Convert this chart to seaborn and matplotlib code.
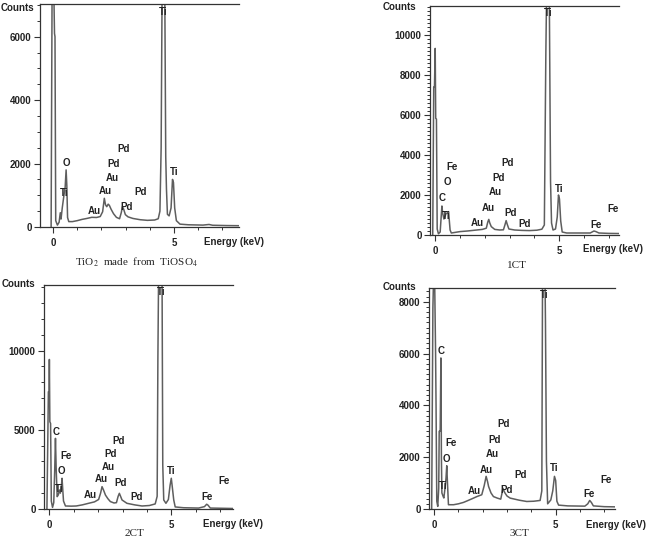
import matplotlib
matplotlib.use('Agg')
import matplotlib.pyplot as plt
import seaborn as sns
import pandas as pd
from matplotlib.ticker import MultipleLocator, FixedLocator

# spectra (energy in keV, counts)
energy_tio2 = [-0.08, -0.04, 0.03, 0.06, 0.08, 0.11, 0.18, 0.25, 0.30, 0.33, 0.38, 0.45, 0.50, 0.54, 0.57,
               0.60, 0.65, 0.80, 1.00, 1.20, 1.40, 1.60, 1.80, 1.95, 2.05, 2.12, 2.17, 2.22, 2.28, 2.33,
               2.40, 2.50, 2.62, 2.75, 2.82, 2.87, 2.92, 2.99, 3.10, 3.30, 3.60, 3.90, 4.20, 4.35, 4.42,
               4.47, 4.51, 4.62, 4.66, 4.69, 4.73, 4.80, 4.88, 4.94, 4.98, 5.03, 5.10, 5.25, 5.60, 6.20,
               6.45, 6.60, 7.20, 7.80]
counts_tio2 = [0, 7500, 7500, 6100, 6000, 200, 60, 150, 450, 250, 600, 1000, 1250, 1800, 1300,
               300, 170, 170, 200, 240, 270, 305, 300, 330, 480, 905, 700, 640, 720, 680,
               560, 420, 305, 260, 450, 640, 560, 390, 320, 270, 230, 210, 220, 260, 500,
               2500, 7500, 7500, 2220, 1200, 400, 350, 600, 1500, 1400, 600, 200, 90, 70, 60,
               80, 55, 45, 40]

energy_1ct = [-0.10, -0.06, -0.03, 0.00, 0.02, 0.05, 0.08, 0.13, 0.20, 0.24, 0.27, 0.30, 0.35, 0.40, 0.44,
              0.50, 0.54, 0.57, 0.60, 0.65, 0.80, 1.00, 1.30, 1.60, 1.90, 2.06, 2.12, 2.16, 2.20, 2.26,
              2.40, 2.60, 2.75, 2.81, 2.86, 2.90, 2.97, 3.20, 3.50, 3.80, 4.10, 4.30, 4.40, 4.46, 4.49,
              4.60, 4.65, 4.69, 4.75, 4.85, 4.92, 4.97, 5.01, 5.06, 5.12, 5.30, 5.80, 6.25, 6.40, 6.48,
              6.60, 7.00, 7.60]
counts_1ct = [0, 7400, 7400, 9330, 5830, 5800, 300, 60, 150, 900, 1450, 1100, 800, 950, 1080,
              1100, 1170, 700, 250, 100, 130, 170, 200, 240, 280, 340, 650, 780, 600, 420,
              280, 250, 260, 500, 720, 550, 300, 250, 230, 220, 240, 290, 500, 9000, 12000,
              12000, 2670, 600, 250, 300, 900, 2000, 1800, 700, 150, 100, 100, 100, 200, 170,
              100, 80, 70]

energy_2ct = [-0.10, -0.04, -0.01, 0.00, 0.02, 0.05, 0.08, 0.13, 0.18, 0.22, 0.25, 0.28, 0.32, 0.37, 0.41,
              0.45, 0.49, 0.52, 0.55, 0.58, 0.66, 0.90, 1.10, 1.35, 1.61, 1.85, 2.02, 2.10, 2.16, 2.22,
              2.30, 2.40, 2.50, 2.65, 2.75, 2.82, 2.87, 2.92, 2.98, 3.18, 3.50, 3.80, 4.10, 4.34, 4.42,
              4.45, 4.48, 4.62, 4.65, 4.69, 4.78, 4.88, 4.95, 5.00, 5.04, 5.10, 5.16, 5.50, 6.12, 6.36,
              6.45, 6.50, 6.60, 7.60]
counts_2ct = [0, 7400, 7400, 9440, 5510, 5400, 500, 100, 400, 2500, 4460, 2500, 780, 900, 1200,
              1000, 1400, 1940, 1200, 500, 190, 180, 190, 260, 360, 450, 600, 1000, 1410, 1200,
              880, 650, 470, 380, 400, 800, 990, 800, 570, 360, 260, 190, 220, 320, 800,
              9500, 15000, 15000, 2780, 570, 360, 600, 1500, 1940, 1400, 570, 130, 80, 60, 150,
              300, 250, 60, 30]

energy_3ct = [-0.10, -0.05, -0.02, 0.02, 0.06, 0.08, 0.11, 0.15, 0.19, 0.21, 0.25, 0.28, 0.30, 0.32, 0.37,
              0.40, 0.45, 0.49, 0.52, 0.55, 0.59, 0.80, 1.00, 1.21, 1.40, 1.62, 1.76, 1.96, 2.06, 2.14,
              2.20, 2.24, 2.34, 2.44, 2.60, 2.74, 2.79, 2.83, 2.88, 2.92, 3.00, 3.13, 3.50, 3.81, 4.10,
              4.36, 4.43, 4.46, 4.56, 4.58, 4.62, 4.67, 4.80, 4.88, 4.95, 5.00, 5.05, 5.12, 5.50, 6.20,
              6.32, 6.40, 6.47, 6.55, 7.00, 7.60]
counts_3ct = [0, 7760, 9000, 9000, 6080, 4000, 300, 100, 800, 3000, 3000, 5830, 2000, 620, 490,
              425, 810, 1200, 1670, 1000, 165, 165, 200, 255, 330, 420, 480, 550, 900, 1260,
              1050, 870, 620, 480, 420, 380, 600, 800, 680, 610, 500, 420, 340, 290, 300,
              330, 700, 9000, 9000, 7240, 1840, 200, 350, 700, 1260, 1100, 300, 150, 120, 110,
              200, 330, 250, 120, 90, 80]

# peak labels: text, energy, counts
labels_tio2 = [('Ti', 4.56, 6790), ('O', 0.54, 2030), ('Ti', 0.48, 1080), ('Au', 1.69, 505),
               ('Au', 2.16, 1145), ('Au', 2.44, 1535), ('Pd', 2.52, 1980), ('Pd', 2.90, 2460),
               ('Pd', 3.60, 1095), ('Pd', 3.05, 620), ('Ti', 5.01, 1745)]
labels_1ct = [('Ti', 4.56, 11085), ('Fe', 0.69, 3385), ('O', 0.48, 2665), ('C', 0.27, 1835),
              ('Ti', 0.43, 950), ('Au', 1.71, 615), ('Au', 2.15, 1335), ('Au', 2.44, 2135),
              ('Pd', 2.54, 2865), ('Pd', 2.92, 3615), ('Pd', 3.02, 1115), ('Pd', 3.59, 550),
              ('Ti', 5.00, 2300), ('Fe', 6.47, 500), ('Fe', 7.18, 1285)]
labels_2ct = [('Ti', 4.58, 13710), ('C', 0.26, 4880), ('Fe', 0.68, 3345), ('O', 0.49, 2420),
              ('Ti', 0.41, 1280), ('Au', 1.67, 885), ('Au', 2.12, 1895), ('Au', 2.42, 2670),
              ('Pd', 2.49, 3450), ('Pd', 2.83, 4310), ('Pd', 2.93, 1660), ('Pd', 3.57, 775),
              ('Ti', 4.99, 2420), ('Fe', 6.46, 775), ('Fe', 7.16, 1765)]
labels_3ct = [('Ti', 4.51, 8270), ('C', 0.28, 6110), ('Fe', 0.70, 2550), ('O', 0.51, 1940),
              ('Ti', 0.37, 900), ('Au', 1.67, 680), ('Au', 2.13, 1515), ('Au', 2.40, 2120),
              ('Pd', 2.47, 2675), ('Pd', 2.86, 3290), ('Pd', 3.00, 745), ('Pd', 3.56, 1310),
              ('Ti', 4.94, 1570), ('Fe', 6.37, 580), ('Fe', 7.08, 1130)]

captions = ['TiO$_2$  made  from  TiOSO$_4$', '1CT', '2CT', '3CT']

sns.set_style('white')
plt.rcParams['font.family'] = ['Liberation Sans', 'DejaVu Sans']
plt.rcParams['mathtext.fontset'] = 'stix'

W, H = 661, 539
fig = plt.figure(figsize=(W / 100, H / 100), dpi=100)


def frac(x, y):
    return x / W, 1 - y / H


# panel boxes in pixels: left, top, right, bottom; plus limits and ticks
panels = [
    dict(box=(40, 4, 239, 227), xlim=(-0.54, 7.69), ylim=7030, major=2000, minor=500,
         e=energy_tio2, c=counts_tio2, lab=labels_tio2,
         counts_xy=(34, 8), energy_xy=(204, 242), cap_xy=(136, 262)),
    dict(box=(430, 6, 619, 235), xlim=(-0.21, 7.41), ylim=11450, major=2000, minor=200,
         e=energy_1ct, c=counts_1ct, lab=labels_1ct,
         counts_xy=(416, 7), energy_xy=(583, 249), cap_xy=(517, 266)),
    dict(box=(44, 285, 233, 509), xlim=(-0.22, 7.53), ylim=14140, major=5000, minor=1000,
         e=energy_2ct, c=counts_2ct, lab=labels_2ct,
         counts_xy=(35, 284), energy_xy=(203, 524), cap_xy=(134, 533)),
    dict(box=(429, 288, 615, 509), xlim=(-0.21, 7.44), ylim=8530, major=2000, minor=200,
         e=energy_3ct, c=counts_3ct, lab=labels_3ct,
         counts_xy=(416, 287), energy_xy=(586, 525), cap_xy=(519, 533)),
]

txt_kw = dict(fontsize=7, color='#222222', fontweight='bold')

for i, p in enumerate(panels):
    l, t, r, b = p['box']
    x0, y0 = frac(l, b)
    ax = fig.add_axes([x0, y0, (r - l) / W, (b - t) / H])
    df = pd.DataFrame({'Energy': p['e'], 'Counts': p['c']})
    sns.lineplot(data=df, x='Energy', y='Counts', ax=ax, color='#5e5e5e', lw=1.1,
                 sort=False, estimator=None)
    ax.set_xlim(*p['xlim'])
    ax.set_ylim(0, p['ylim'])
    ax.set_xlabel('')
    ax.set_ylabel('')

    ax.xaxis.set_major_locator(FixedLocator([0, 5]))
    ax.xaxis.set_minor_locator(MultipleLocator(1))
    ax.yaxis.set_major_locator(MultipleLocator(p['major']))
    ax.yaxis.set_minor_locator(MultipleLocator(p['minor']))
    ax.tick_params(which='major', direction='out', length=4, width=0.8, color='#333333',
                   labelsize=7, pad=2, labelcolor='#222222', bottom=True, left=True)
    ax.tick_params(which='minor', direction='out', length=2.5, width=0.7, color='#333333',
                   bottom=True, left=True)
    ax.tick_params(axis='x', which='major', pad=4)
    for lbl in ax.get_xticklabels() + ax.get_yticklabels():
        lbl.set_fontweight('bold')

    for side in ['left', 'bottom', 'top']:
        ax.spines[side].set_visible(True)
        ax.spines[side].set_color('#333333')
        ax.spines[side].set_linewidth(0.9)
    ax.spines['right'].set_visible(False)

    for txt, xe, yc in p['lab']:
        ax.text(xe, yc, txt, ha='center', va='center', **txt_kw)

    fig.text(*frac(*p['counts_xy']), 'Counts', ha='right', va='center', **txt_kw)
    fig.text(*frac(*p['energy_xy']), 'Energy (keV)', ha='left', va='center', **txt_kw)
    fig.text(*frac(*p['cap_xy']), captions[i], ha='center', va='center', fontsize=8,
             color='#222222', family=['Liberation Serif', 'DejaVu Serif'])

fig.savefig('out.png', dpi=100)
